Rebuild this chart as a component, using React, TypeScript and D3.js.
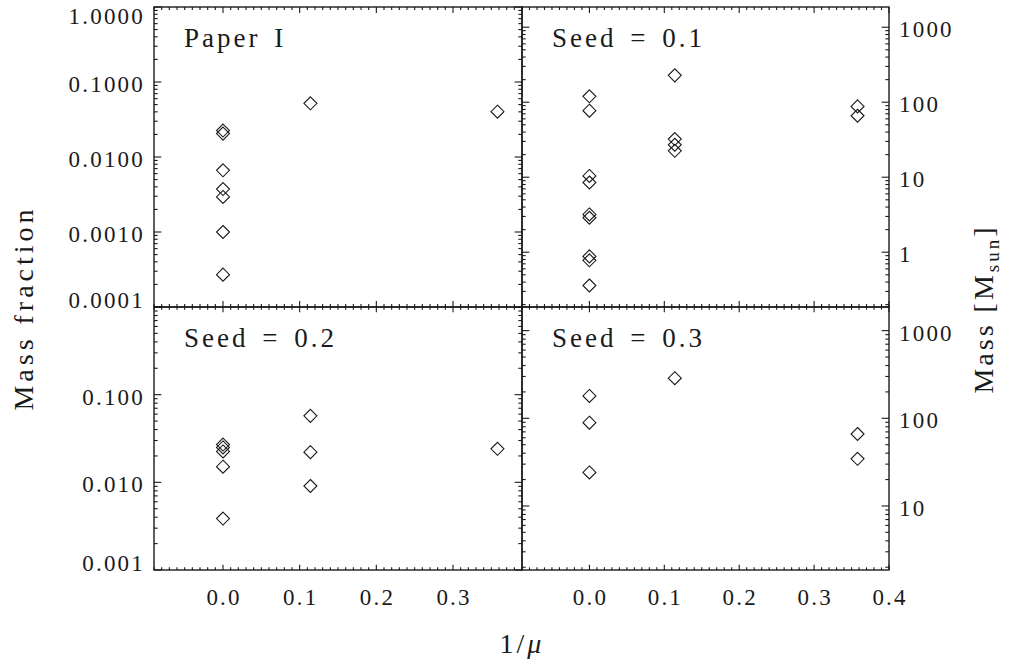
import React from 'react';
import * as d3 from 'd3';

// ---------------- data ----------------
const M_TOTAL = 1860; // mass [Msun] corresponding to mass fraction 1
const X_POS = [0.0, 0.114, 0.358]; // 1/mu of the three groups

// Paper I (mass fraction)
const PAPER1_G0 = [0.0225, 0.0205, 0.00664, 0.00374, 0.00293, 0.001, 0.00027];
const PAPER1_G1 = [0.052];
const PAPER1_G2 = [0.0402];

// Seed = 0.1 (mass, Msun)
const SEED1_G0 = [120, 77, 10.4, 8.5, 3.19, 2.88, 0.88, 0.78, 0.36];
const SEED1_G1 = [228, 32.3, 27.1, 22.5];
const SEED1_G2 = [88, 66];

// Seed = 0.2 (mass fraction)
const SEED2_G0 = [0.027, 0.025, 0.0225, 0.01507, 0.00386];
const SEED2_G1 = [0.0573, 0.0221, 0.00908];
const SEED2_G2 = [0.0241];

// Seed = 0.3 (mass, Msun)
const SEED3_G0 = [180, 89, 24.1];
const SEED3_G1 = [287];
const SEED3_G2 = [66.2, 34.5];

const PANEL_TITLES = ['Paper I', 'Seed = 0.1', 'Seed = 0.2', 'Seed = 0.3'];
const FRAC_LABELS_TOP = ['1.0000', '0.1000', '0.0100', '0.0010', '0.0001'];
const FRAC_VALUES_TOP = [1, 0.1, 0.01, 0.001, 0.0001];
const FRAC_LABELS_BOT = ['0.100', '0.010', '0.001'];
const FRAC_VALUES_BOT = [0.1, 0.01, 0.001];
const MASS_LABELS_TOP = ['1000', '100', '10', '1'];
const MASS_VALUES_TOP = [1000, 100, 10, 1];
const MASS_LABELS_BOT = ['1000', '100', '10'];
const MASS_VALUES_BOT = [1000, 100, 10];
const X_TICK_VALUES = [0.0, 0.1, 0.2, 0.3, 0.4];
const X_TICK_LABELS = ['0.0', '0.1', '0.2', '0.3', '0.4'];

// ---------------- layout ----------------
const W = 1009;
const H = 667;
const XL = 154, XM = 522, XR = 889;
const YT = 7, YM = 307, YB = 570;
const FONT = "'Liberation Serif', 'Times New Roman', serif";
const INK = '#1a1a1a';

type Group = number[][];
interface Panel {
  title: string;
  px0: number; px1: number; py0: number; py1: number;
  xDomain: [number, number];
  fracMin: number;
  unit: 'frac' | 'mass';
  groups: Group;
  isLeft: boolean;
  isBottom: boolean;
  fracLabels?: string[]; fracValues?: number[];
  massLabels?: string[]; massValues?: number[];
}

const PANELS: Panel[] = [
  { title: PANEL_TITLES[0], px0: XL, px1: XM, py0: YT, py1: YM, xDomain: [-0.09, 0.39], fracMin: 1e-4, unit: 'frac',
    groups: [PAPER1_G0, PAPER1_G1, PAPER1_G2], isLeft: true, isBottom: false,
    fracLabels: FRAC_LABELS_TOP, fracValues: FRAC_VALUES_TOP },
  { title: PANEL_TITLES[1], px0: XM, px1: XR, py0: YT, py1: YM, xDomain: [-0.09, 0.40], fracMin: 1e-4, unit: 'mass',
    groups: [SEED1_G0, SEED1_G1, SEED1_G2], isLeft: false, isBottom: false,
    massLabels: MASS_LABELS_TOP, massValues: MASS_VALUES_TOP },
  { title: PANEL_TITLES[2], px0: XL, px1: XM, py0: YM, py1: YB, xDomain: [-0.09, 0.39], fracMin: 1e-3, unit: 'frac',
    groups: [SEED2_G0, SEED2_G1, SEED2_G2], isLeft: true, isBottom: true,
    fracLabels: FRAC_LABELS_BOT, fracValues: FRAC_VALUES_BOT },
  { title: PANEL_TITLES[3], px0: XM, px1: XR, py0: YM, py1: YB, xDomain: [-0.09, 0.40], fracMin: 1e-3, unit: 'mass',
    groups: [SEED3_G0, SEED3_G1, SEED3_G2], isLeft: false, isBottom: true,
    massLabels: MASS_LABELS_BOT, massValues: MASS_VALUES_BOT },
];

function logTicks(min: number, max: number) {
  const out: { v: number; major: boolean }[] = [];
  const d0 = Math.floor(Math.log10(min)) - 1;
  const d1 = Math.ceil(Math.log10(max)) + 1;
  for (let d = d0; d <= d1; d++) {
    for (let k = 1; k <= 9; k++) {
      const v = k * Math.pow(10, d);
      if (v >= min * 0.9999 && v <= max * 1.0001) out.push({ v, major: k === 1 });
    }
  }
  return out;
}

const TICK_FS = 23;
const TICK_LS = 2.2;

function PanelView({ p }: { p: Panel }) {
  const x = d3.scaleLinear().domain(p.xDomain).range([p.px0, p.px1]);
  const yF = d3.scaleLog().domain([p.fracMin, 1]).range([p.py1, p.py0]);
  const yM = d3.scaleLog().domain([p.fracMin * M_TOTAL, M_TOTAL]).range([p.py1, p.py0]);
  const yData = p.unit === 'frac' ? yF : yM;
  const yAxisScale = p.isLeft ? yF : yM;
  const yMin = p.isLeft ? p.fracMin : p.fracMin * M_TOTAL;
  const yMax = p.isLeft ? 1 : M_TOTAL;
  const yt = logTicks(yMin, yMax);
  const pw = p.px1 - p.px0;
  const ph = p.py1 - p.py0;
  const yMaj = 0.02 * pw, yMin2 = 0.01 * pw;
  const xMaj = 0.02 * ph, xMin2 = 0.01 * ph;

  const xt: { v: number; major: boolean }[] = [];
  for (let i = Math.ceil(p.xDomain[0] * 100 - 1e-6); i <= Math.floor(p.xDomain[1] * 100 + 1e-6); i++) {
    xt.push({ v: i / 100, major: i % 10 === 0 });
  }

  const els: React.ReactNode[] = [];
  els.push(<rect key="frame" x={p.px0} y={p.py0} width={pw} height={ph} fill="none" stroke={INK} strokeWidth={1.4} />);
  yt.forEach((t, i) => {
    const yy = yAxisScale(t.v);
    const L = t.major ? yMaj : yMin2;
    els.push(<line key={'yl' + i} x1={p.px0} x2={p.px0 + L} y1={yy} y2={yy} stroke={INK} strokeWidth={1.1} />);
    els.push(<line key={'yr' + i} x1={p.px1} x2={p.px1 - L} y1={yy} y2={yy} stroke={INK} strokeWidth={1.1} />);
  });
  xt.forEach((t, i) => {
    const xx = x(t.v);
    const L = t.major ? xMaj : xMin2;
    els.push(<line key={'xt' + i} x1={xx} x2={xx} y1={p.py0} y2={p.py0 + L} stroke={INK} strokeWidth={1.1} />);
    els.push(<line key={'xb' + i} x1={xx} x2={xx} y1={p.py1} y2={p.py1 - L} stroke={INK} strokeWidth={1.1} />);
  });
  const labelY = (ty: number) => Math.min(Math.max(ty + 2.5, p.py0 + 9), p.py1 - 7) + 7.5;
  if (p.fracLabels && p.fracValues) {
    p.fracValues.forEach((v, i) => {
      els.push(<text key={'fl' + i} x={145} y={labelY(yF(v))} textAnchor="end" fontFamily={FONT} fontSize={TICK_FS} letterSpacing={TICK_LS} fill={INK}>{p.fracLabels![i]}</text>);
    });
  }
  if (p.massLabels && p.massValues) {
    p.massValues.forEach((v, i) => {
      els.push(<text key={'ml' + i} x={899} y={labelY(yM(v))} textAnchor="start" fontFamily={FONT} fontSize={TICK_FS} letterSpacing={TICK_LS} fill={INK}>{p.massLabels![i]}</text>);
    });
  }
  if (p.isBottom) {
    X_TICK_VALUES.forEach((v, i) => {
      if (v < p.xDomain[0] - 1e-9 || v > p.xDomain[1] + 1e-9) return;
      els.push(<text key={'xl' + i} x={x(v) + TICK_LS / 2} y={605} textAnchor="middle" fontFamily={FONT} fontSize={TICK_FS} letterSpacing={TICK_LS} fill={INK}>{X_TICK_LABELS[i]}</text>);
    });
  }
  els.push(<text key="title" x={p.px0 + 30} y={p.py0 + 40} fontFamily={FONT} fontSize={27} letterSpacing={3} wordSpacing={4} fill={INK} style={{ whiteSpace: 'pre' }}>{p.title}</text>);
  const r = 6.5;
  p.groups.forEach((g, gi) => {
    g.forEach((v, j) => {
      const cx = x(X_POS[gi]);
      const cy = yData(v);
      els.push(<path key={'d' + gi + '_' + j} d={`M${cx},${cy - r}L${cx + r},${cy}L${cx},${cy + r}L${cx - r},${cy}Z`} fill="none" stroke={INK} strokeWidth={1.1} />);
    });
  });
  return <g>{els}</g>;
}

export default function App() {
  return (
    <svg width={W} height={H} viewBox={`0 0 ${W} ${H}`} style={{ position: 'absolute', left: 0, top: 0, background: '#fff' }}>
      <rect x={0} y={0} width={W} height={H} fill="#fff" />
      {PANELS.map((p, i) => <PanelView key={i} p={p} />)}
      <text transform="translate(33,308) rotate(-90)" textAnchor="middle" fontFamily={FONT} fontSize={28} letterSpacing={4} fill={INK}>Mass fraction</text>
      <text transform="translate(993,309) rotate(-90)" textAnchor="middle" fontFamily={FONT} fontSize={28} letterSpacing={3} fill={INK}>
        Mass [M<tspan fontSize={19} dy={6}>sun</tspan><tspan dy={-6}>]</tspan>
      </text>
      <text x={522} y={653} textAnchor="middle" fontFamily={FONT} fontSize={28} letterSpacing={3} fill={INK}>1/<tspan fontStyle="italic">μ</tspan></text>
    </svg>
  );
}
